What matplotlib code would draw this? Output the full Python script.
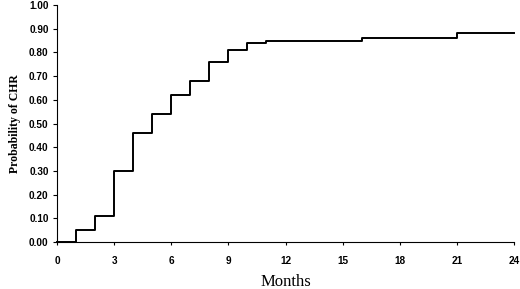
import matplotlib
matplotlib.use("Agg")
import matplotlib.pyplot as plt

# Cumulative probability of CHR by month (step function)
months = [0, 1, 2, 3, 4, 5, 6, 7, 8, 9, 10, 11, 16, 21, 24]
prob = [0.00, 0.05, 0.11, 0.30, 0.46, 0.54, 0.62, 0.68, 0.76, 0.81, 0.84, 0.85, 0.86, 0.88, 0.88]

x_ticks = [0, 3, 6, 9, 12, 15, 18, 21, 24]
y_ticks = [0.0, 0.1, 0.2, 0.3, 0.4, 0.5, 0.6, 0.7, 0.8, 0.9, 1.0]

fig = plt.figure(figsize=(5.2, 2.89), dpi=100)
ax = fig.add_axes([0.1096, 0.1626, 0.8789, 0.8201])

ax.step(months, prob, where="post", color="black", linewidth=1.4, clip_on=False)

ax.set_xlim(0, 24)
ax.set_ylim(0, 1.0)
ax.set_xticks(x_ticks)
ax.set_yticks(y_ticks)
ax.set_yticklabels([f"{v:.2f}" for v in y_ticks])

for lab in ax.get_xticklabels() + ax.get_yticklabels():
    lab.set_fontfamily("Liberation Sans")
    lab.set_fontweight("bold")
    lab.set_fontsize(7.2)

ax.tick_params(axis="x", length=2, width=0.8, pad=8)
ax.tick_params(axis="y", length=3, width=0.8, pad=3)

ax.spines["top"].set_visible(False)
ax.spines["right"].set_visible(False)
ax.spines["left"].set_linewidth(0.8)
ax.spines["bottom"].set_linewidth(0.8)

ax.set_xlabel("Months", fontfamily="Liberation Serif", fontsize=12, labelpad=6)
ax.set_ylabel("Probability of CHR", fontfamily="Liberation Serif", fontweight="bold",
              fontsize=8.5, labelpad=6)

fig.savefig("out.png", dpi=100)
